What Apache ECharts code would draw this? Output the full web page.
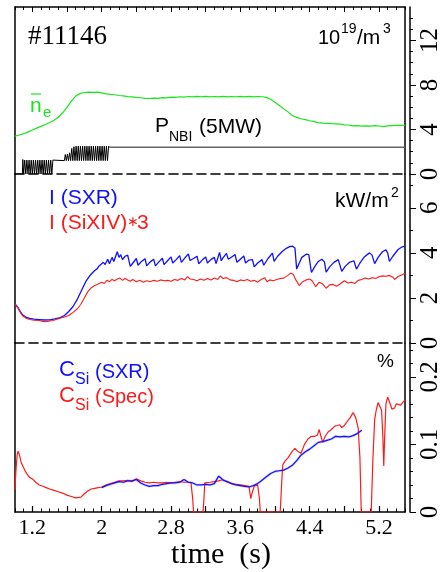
<!DOCTYPE html>
<html><head><meta charset="utf-8">
<script src="https://cdn.jsdelivr.net/npm/echarts@6/dist/echarts.min.js"></script>
<style>html,body{margin:0;padding:0;background:#fff}#c{width:447px;height:572px}</style>
</head><body><div id="c"></div>
<script>
// ---------- axis definitions ----------
const timeMin = 1.0, timeMax = 5.5;
const timeLabels = [1.2, 2.0, 2.8, 3.6, 4.4, 5.2];
const timeMajorTicks = [1.2, 1.6, 2.0, 2.4, 2.8, 3.2, 3.6, 4.0, 4.4, 4.8, 5.2];
const p1Max = 15, p1Labels = [0, 4, 8, 12], p1Minor = [1,2,3,5,6,7,9,10,11,13,14];
const p2Max = 7.5, p2Labels = [0, 2, 4, 6], p2Minor = [1, 3, 5, 7];
const p3Max = 0.25, p3Labels = [0, 0.1, 0.2], p3Minor = [0.02,0.04,0.06,0.08,0.12,0.14,0.16,0.18,0.22,0.24];

// ---------- panel 1: line-averaged density (10^19/m^3) ----------
const neData = [[1.00,3.40],[1.05,3.50],[1.10,3.62],[1.15,3.78],[1.20,3.95],[1.25,4.12],[1.30,4.28],[1.35,4.45],[1.40,4.62],[1.45,4.82],[1.50,5.10],[1.55,5.50],[1.60,5.98],[1.65,6.55],[1.70,7.00],[1.75,7.22],[1.80,7.32],[1.85,7.36],[1.90,7.34],[1.95,7.35],[2.00,7.28],[2.05,7.20],[2.10,7.15],[2.15,7.12],[2.20,7.05],[2.25,7.02],[2.30,6.95],[2.35,6.92],[2.40,6.88],[2.45,6.85],[2.50,6.80],[2.55,6.78],[2.60,6.82],[2.65,6.80],[2.70,6.86],[2.75,6.84],[2.80,6.90],[2.85,6.88],[2.90,6.94],[2.95,6.90],[3.00,6.96],[3.05,6.92],[3.10,6.98],[3.15,6.94],[3.20,6.97],[3.25,6.92],[3.30,6.96],[3.35,6.93],[3.40,6.98],[3.45,6.92],[3.50,6.96],[3.55,6.94],[3.60,6.98],[3.65,6.93],[3.70,6.97],[3.75,6.92],[3.80,6.96],[3.85,6.94],[3.90,6.88],[3.95,6.72],[4.00,6.45],[4.05,6.15],[4.10,5.85],[4.15,5.58],[4.20,5.25],[4.25,5.08],[4.30,4.96],[4.35,4.88],[4.40,4.78],[4.45,4.70],[4.50,4.62],[4.55,4.57],[4.60,4.55],[4.65,4.52],[4.70,4.50],[4.75,4.48],[4.80,4.42],[4.85,4.40],[4.90,4.32],[4.95,4.34],[5.00,4.30],[5.05,4.33],[5.10,4.30],[5.15,4.34],[5.20,4.31],[5.25,4.26],[5.30,4.33],[5.35,4.35],[5.40,4.36],[5.45,4.37],[5.50,4.38]];

// NBI power (modulated phase), black
const pnbiData = [[1.00,0],[1.085,0],[1.09,1.30],[1.10,0],[1.112,1.25],[1.125,0],[1.137,1.25],[1.150,0],[1.162,1.25],[1.175,0],[1.187,1.25],[1.200,0],[1.212,1.25],[1.225,0],[1.237,1.25],[1.250,0],[1.262,1.25],[1.275,0],[1.287,1.25],[1.300,0],[1.312,1.25],[1.325,0],[1.337,1.25],[1.350,0],[1.362,1.25],[1.375,0],[1.387,1.25],[1.400,0],[1.412,1.25],[1.425,0],[1.437,1.25],[1.44,1.2],[1.57,1.2],[1.58,1.75],[1.592,1.2],[1.605,1.8],[1.617,1.2],[1.630,1.9],[1.642,1.2],[1.655,2.3],[1.667,1.2],[1.680,2.45],[1.692,1.2],[1.705,2.5],[1.717,1.2],[1.730,2.5],[1.742,1.2],[1.755,2.5],[1.767,1.2],[1.780,2.5],[1.792,1.2],[1.805,2.5],[1.817,1.2],[1.830,2.5],[1.842,1.2],[1.855,2.5],[1.867,1.2],[1.880,2.5],[1.892,1.2],[1.905,2.5],[1.917,1.2],[1.930,2.5],[1.942,1.2],[1.955,2.5],[1.967,1.2],[1.980,2.5],[1.992,1.2],[2.005,2.5],[2.017,1.2],[2.030,2.5],[2.042,1.2],[2.055,2.5],[2.067,1.2],[2.080,2.5],[2.09,2.4]];
// NBI power (steady phase), grey
const pnbiSteady = [[2.09,2.4],[5.50,2.4]];

// ---------- panel 2: radiation intensity (kW/m^2) ----------
const sxrData = [[1.00,1.73],[1.03,1.60],[1.06,1.40],[1.09,1.24],[1.13,1.14],[1.17,1.09],[1.22,1.06],[1.28,1.04],[1.34,1.02],[1.40,1.03],[1.46,1.07],[1.52,1.13],[1.57,1.22],[1.62,1.40],[1.67,1.62],[1.72,1.95],[1.77,2.35],[1.82,2.75],[1.87,3.02],[1.92,3.22],[1.95,3.30],[1.97,3.42],[1.99,3.36],[2.02,3.58],[2.04,3.48],[2.07,3.72],[2.09,3.52],[2.12,3.80],[2.14,3.62],[2.18,4.05],[2.20,3.80],[2.22,3.92],[2.24,3.70],[2.27,3.85],[2.30,3.90],[2.33,3.40],[2.36,3.55],[2.40,3.75],[2.42,3.45],[2.46,3.62],[2.50,3.74],[2.52,3.42],[2.56,3.60],[2.60,3.72],[2.62,3.42],[2.66,3.60],[2.70,3.76],[2.72,3.48],[2.76,3.65],[2.80,3.82],[2.82,3.55],[2.86,3.70],[2.90,3.88],[2.92,3.58],[2.96,3.78],[3.00,3.95],[3.02,3.66],[3.06,3.75],[3.10,3.85],[3.12,3.52],[3.16,3.68],[3.20,3.82],[3.22,3.55],[3.26,3.70],[3.30,3.80],[3.32,3.52],[3.36,4.02],[3.38,3.65],[3.40,3.78],[3.44,3.98],[3.46,3.72],[3.50,3.82],[3.54,3.92],[3.56,3.58],[3.60,3.72],[3.64,3.86],[3.66,3.55],[3.70,3.68],[3.74,3.70],[3.76,3.38],[3.80,3.55],[3.85,3.70],[3.87,3.45],[3.92,3.75],[3.97,3.99],[3.99,3.62],[4.03,3.85],[4.08,4.05],[4.13,4.20],[4.17,4.28],[4.20,4.30],[4.23,4.22],[4.25,3.28],[4.28,3.55],[4.31,3.80],[4.36,3.94],[4.39,3.92],[4.42,3.13],[4.46,3.40],[4.50,3.62],[4.54,3.72],[4.57,3.60],[4.59,3.15],[4.63,3.38],[4.68,3.58],[4.73,3.70],[4.75,3.62],[4.77,3.18],[4.81,3.40],[4.86,3.58],[4.91,3.65],[4.94,3.28],[4.98,3.55],[5.03,3.82],[5.09,4.00],[5.12,3.90],[5.15,3.52],[5.19,3.80],[5.24,4.05],[5.28,4.14],[5.30,4.00],[5.32,3.62],[5.36,3.85],[5.42,4.15],[5.46,4.25],[5.50,4.30]];
const sixivData = [[1.00,1.72],[1.03,1.58],[1.06,1.36],[1.09,1.20],[1.13,1.10],[1.17,1.04],[1.22,1.01],[1.28,1.00],[1.32,0.96],[1.36,0.94],[1.40,0.98],[1.44,1.00],[1.48,1.05],[1.52,1.10],[1.57,1.15],[1.62,1.22],[1.67,1.36],[1.72,1.52],[1.76,1.72],[1.80,2.00],[1.84,2.28],[1.88,2.45],[1.92,2.55],[1.96,2.62],[2.00,2.70],[2.03,2.64],[2.06,2.78],[2.09,2.72],[2.12,2.82],[2.15,2.76],[2.18,2.84],[2.21,2.88],[2.24,2.78],[2.27,2.86],[2.30,2.80],[2.33,2.74],[2.36,2.82],[2.40,2.72],[2.44,2.78],[2.48,2.70],[2.52,2.76],[2.56,2.72],[2.60,2.78],[2.64,2.74],[2.68,2.80],[2.72,2.76],[2.76,2.78],[2.80,2.74],[2.84,2.82],[2.88,2.78],[2.92,2.86],[2.96,2.80],[2.99,2.95],[3.02,2.84],[3.06,2.82],[3.10,2.76],[3.14,2.84],[3.18,2.78],[3.22,2.86],[3.26,2.80],[3.30,2.88],[3.34,2.82],[3.37,2.98],[3.40,2.86],[3.44,2.90],[3.48,2.80],[3.52,2.78],[3.56,2.72],[3.60,2.80],[3.64,2.76],[3.68,2.82],[3.72,2.74],[3.76,2.78],[3.80,2.70],[3.84,2.82],[3.88,2.90],[3.91,2.72],[3.94,2.80],[3.98,2.76],[4.02,2.82],[4.06,2.86],[4.10,2.88],[4.14,2.98],[4.18,3.10],[4.21,3.05],[4.24,2.80],[4.28,2.55],[4.32,2.72],[4.36,2.80],[4.40,2.84],[4.43,2.75],[4.47,2.50],[4.51,2.70],[4.55,2.62],[4.59,2.43],[4.63,2.58],[4.67,2.60],[4.71,2.52],[4.75,2.62],[4.80,2.76],[4.84,2.66],[4.88,2.70],[4.92,2.64],[4.96,2.78],[5.00,2.82],[5.04,2.88],[5.08,2.84],[5.12,2.90],[5.16,2.86],[5.20,2.94],[5.24,2.98],[5.28,2.96],[5.32,3.00],[5.36,2.92],[5.38,2.82],[5.42,2.95],[5.46,3.02],[5.50,3.10]];

// ---------- panel 3: Si concentration (%) ----------
const csiSpecData = [[1.000,0.033],[1.010,0.060],[1.025,0.085],[1.035,0.090],[1.05,0.085],[1.07,0.074],[1.09,0.068],[1.12,0.060],[1.15,0.054],[1.17,0.051],[1.20,0.049],[1.24,0.044],[1.28,0.040],[1.32,0.038],[1.36,0.036],[1.40,0.034],[1.45,0.032],[1.50,0.030],[1.55,0.028],[1.60,0.025],[1.65,0.023],[1.70,0.021],[1.72,0.019],[1.76,0.022],[1.80,0.027],[1.84,0.031],[1.88,0.034],[1.92,0.035],[1.96,0.036],[2.00,0.037],[2.05,0.040],[2.10,0.042],[2.15,0.044],[2.20,0.046],[2.25,0.046],[2.30,0.047],[2.35,0.045],[2.40,0.049],[2.45,0.046],[2.50,0.044],[2.55,0.043],[2.60,0.044],[2.65,0.043],[2.70,0.043],[2.75,0.044],[2.80,0.043],[2.85,0.044],[2.90,0.045],[2.95,0.044],[3.00,0.044],[3.03,0.044],[3.05,0.020],[3.06,0.000],[3.17,0.000],[3.18,0.020],[3.19,0.043],[3.25,0.044],[3.30,0.045],[3.35,0.046],[3.40,0.048],[3.42,0.048],[3.45,0.044],[3.50,0.042],[3.55,0.041],[3.60,0.040],[3.65,0.039],[3.70,0.038],[3.72,0.020],[3.73,0.018],[3.74,0.030],[3.76,0.038],[3.80,0.040],[3.82,0.020],[3.83,0.000],[4.06,0.000],[4.08,0.050],[4.09,0.070],[4.12,0.076],[4.15,0.080],[4.20,0.090],[4.23,0.094],[4.26,0.090],[4.30,0.087],[4.34,0.100],[4.38,0.108],[4.42,0.112],[4.46,0.112],[4.49,0.114],[4.51,0.122],[4.53,0.112],[4.55,0.103],[4.58,0.112],[4.61,0.118],[4.65,0.122],[4.69,0.127],[4.72,0.128],[4.745,0.129],[4.77,0.125],[4.80,0.128],[4.84,0.135],[4.87,0.140],[4.90,0.147],[4.93,0.140],[4.96,0.124],[4.98,0.080],[4.995,0.000],[5.11,0.000],[5.13,0.080],[5.15,0.137],[5.17,0.152],[5.19,0.162],[5.21,0.164],[5.23,0.150],[5.245,0.110],[5.255,0.068],[5.265,0.110],[5.28,0.160],[5.30,0.170],[5.32,0.163],[5.35,0.152],[5.38,0.154],[5.40,0.160],[5.42,0.162],[5.45,0.158],[5.48,0.163],[5.50,0.166]];
const csiSxrData = [[2.00,0.036],[2.05,0.039],[2.10,0.041],[2.15,0.043],[2.20,0.045],[2.25,0.044],[2.30,0.046],[2.35,0.046],[2.40,0.048],[2.45,0.043],[2.50,0.040],[2.55,0.038],[2.60,0.039],[2.65,0.039],[2.70,0.041],[2.75,0.042],[2.80,0.043],[2.85,0.043],[2.90,0.044],[2.95,0.048],[3.00,0.044],[3.05,0.043],[3.10,0.040],[3.15,0.040],[3.20,0.041],[3.25,0.040],[3.30,0.042],[3.35,0.053],[3.38,0.050],[3.40,0.047],[3.45,0.045],[3.50,0.042],[3.55,0.040],[3.60,0.039],[3.65,0.038],[3.70,0.037],[3.75,0.039],[3.80,0.042],[3.85,0.047],[3.90,0.052],[3.95,0.057],[4.00,0.060],[4.05,0.061],[4.10,0.062],[4.15,0.065],[4.20,0.069],[4.25,0.076],[4.30,0.084],[4.35,0.089],[4.40,0.093],[4.45,0.098],[4.50,0.103],[4.55,0.104],[4.60,0.106],[4.65,0.108],[4.70,0.112],[4.75,0.111],[4.80,0.112],[4.85,0.111],[4.90,0.113],[4.95,0.116],[5.00,0.121]];

// ---------- build ----------
const SERIF = '"Liberation Serif","Times New Roman",serif';
const SANS = '"Liberation Sans",Arial,sans-serif';
const GREEN = '#19e619', BLUE = '#1010ff', RED = '#ff1a1a';
const L = 15, R = 42;
const grids = [
  {left: L, right: R, top: 7, height: 167},
  {left: L, right: R, top: 174, height: 169},
  {left: L, right: R, top: 343, height: 169}
];
const none = {show: false};
const noLine = {show: false, onZero: false};
function xBase(g, pos, line) {
  return {type: 'value', gridIndex: g, position: pos, min: timeMin, max: timeMax,
    axisLine: line, axisTick: none, axisLabel: none, splitLine: none};
}
const solid = {show: true, onZero: false, lineStyle: {color: '#000', width: 1.5}};
const dashed = {show: true, onZero: false, lineStyle: {color: '#000', width: 1.6, type: [9, 5]}};
const xAxes = [
  xBase(0, 'bottom', dashed),
  Object.assign(xBase(0, 'top', solid), {axisTick: {show: true, inside: true, length: 5, customValues: timeMajorTicks, lineStyle: {color: '#000'}}}),
  Object.assign(xBase(0, 'top', noLine), {interval: 0.1, axisTick: {show: true, inside: true, length: 3, lineStyle: {color: '#000'}}}),
  xBase(1, 'bottom', dashed),
  Object.assign(xBase(2, 'bottom', solid), {
    axisTick: {show: true, inside: true, length: 6, customValues: timeMajorTicks, lineStyle: {color: '#000', width: 1.2}},
    axisLabel: {show: true, customValues: timeLabels, margin: 5, fontFamily: SERIF, fontSize: 22, color: '#000'}}),
  Object.assign(xBase(2, 'bottom', noLine), {interval: 0.1, axisTick: {show: true, inside: true, length: 3.5, lineStyle: {color: '#000'}}})
];
function yAxesFor(g, max, labels, minor) {
  const base = {type: 'value', gridIndex: g, min: 0, max: max, splitLine: none};
  return [
    Object.assign({}, base, {position: 'left', axisLine: solid, axisTick: none, axisLabel: none}),
    Object.assign({}, base, {position: 'right', offset: 0, axisLine: solid, axisTick: none, axisLabel: none}),
    Object.assign({}, base, {position: 'right', offset: 5, axisLine: solid,
      axisTick: {show: true, inside: false, length: 6, customValues: labels, lineStyle: {color: '#000'}},
      axisLabel: {show: true, customValues: labels, rotate: 90, margin: 8, fontFamily: SERIF, fontSize: 25, color: '#000'}}),
    Object.assign({}, base, {position: 'right', offset: 5, axisLine: noLine,
      axisTick: {show: true, inside: false, length: 3, customValues: minor, lineStyle: {color: '#000'}}, axisLabel: none})
  ];
}
const yAxes = [].concat(yAxesFor(0, p1Max, p1Labels, p1Minor), yAxesFor(1, p2Max, p2Labels, p2Minor), yAxesFor(2, p3Max, p3Labels, p3Minor));
function line(data, xi, yi, color, width, z) {
  return {type: 'line', data: data, xAxisIndex: xi, yAxisIndex: yi, showSymbol: false, symbol: 'none',
    lineStyle: {color: color, width: width}, z: z || 2, animation: false, silent: true, clip: true};
}
const series = [
  line(neData, 0, 0, GREEN, 1.2),
  line(pnbiData, 0, 0, '#000', 1),
  line(pnbiSteady, 0, 0, '#666', 1.6),
  line(sxrData, 3, 4, BLUE, 1.3),
  line(sixivData, 3, 4, RED, 1.1),
  line(csiSxrData, 4, 8, 'rgba(120,120,255,0.35)', 2.6, 1),
  line(csiSxrData, 4, 8, BLUE, 1.2, 3),
  line(csiSpecData, 4, 8, RED, 1.2, 2)
];
function txt(s, x, y, size, fam, color, align) {
  return {type: 'text', x: x, y: y, z: 100, silent: true,
    style: {text: s, fontSize: size, fontFamily: fam, fill: color || '#000',
      textAlign: align || 'left', align: align || 'left', textVerticalAlign: 'middle', verticalAlign: 'middle'}};
}
const graphics = [
  txt('#11146', 28, 37, 27, SERIF),
  txt('10', 318, 38, 20, SANS), txt('19', 341, 29, 14, SANS), txt('/m', 357, 38, 21, SANS), txt('3', 383, 29, 14, SANS),
  txt('n', 30, 106, 21, SANS, GREEN), txt('e', 43, 113, 15, SANS, GREEN),
  {type: 'line', z: 100, silent: true, shape: {x1: 31, y1: 94, x2: 41, y2: 94}, style: {stroke: GREEN, lineWidth: 1.2}},
  txt('P', 155, 126, 21, SANS), txt('NBI', 169, 137, 14, SANS), txt('(5MW)', 199, 127, 21, SANS),
  txt('I (SXR)', 49, 198, 21, SANS, BLUE),
  txt('I (SiXIV)', 49, 223, 21, SANS, RED), txt('\u2217', 127, 222, 14, SANS, RED), txt('3', 137, 223, 21, SANS, RED),
  txt('kW/m', 335, 201, 21, SANS), txt('2', 391, 193, 14, SANS),
  txt('%', 377, 362, 19, SANS),
  txt('C', 59, 370, 22, SANS, BLUE), txt('Si', 75, 380, 16, SANS, BLUE), txt('(SXR)', 95, 372, 20, SANS, BLUE),
  txt('C', 59, 396, 22, SANS, RED), txt('Si', 75, 406, 16, SANS, RED), txt('(Spec)', 95, 397, 20, SANS, RED),
  txt('time  (s)', 221, 555, 30, SERIF, '#000', 'center')
];
const chart = echarts.init(document.getElementById('c'), null, {renderer: 'canvas'});
chart.setOption({animation: false, grid: grids, xAxis: xAxes, yAxis: yAxes, series: series, graphic: {elements: graphics}});
</script></body></html>
